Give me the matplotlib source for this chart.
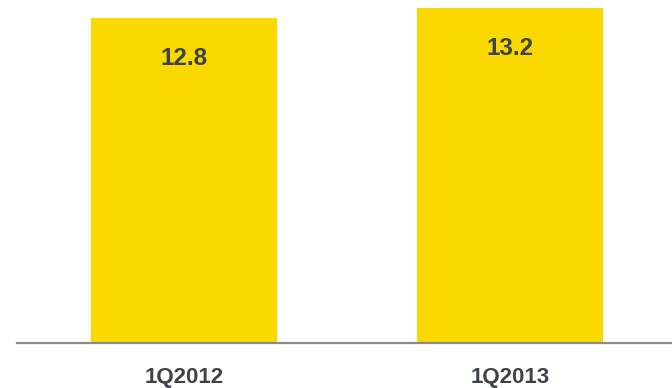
import matplotlib
matplotlib.use("Agg")
import matplotlib.pyplot as plt

categories = ["1Q2012", "1Q2013"]
values = [12.8, 13.2]

bar_color = "#FAD800"
text_color = "#3D4449"
axis_color = "#8C8C8C"

fig = plt.figure(figsize=(6.72, 3.88), dpi=100)
ax = fig.add_axes([17 / 672, 45 / 388, 655 / 672, 343 / 388])

x = list(range(len(categories)))
ax.bar(x, values, width=0.57, color=bar_color, zorder=2)

ax.set_xlim(-0.512, 1.497)
ax.set_ylim(0, 13.5)

for spine in ("top", "right", "left"):
    ax.spines[spine].set_visible(False)
ax.spines["bottom"].set_color(axis_color)
ax.spines["bottom"].set_linewidth(1.6)
ax.spines["bottom"].set_zorder(3)

ax.set_yticks([])
ax.set_xticks(x)
ax.set_xticklabels(categories, fontfamily="Liberation Sans", fontweight="bold",
                   fontsize=16, color=text_color)
ax.tick_params(axis="x", length=0, pad=17)

for xi, v in zip(x, values):
    ax.annotate(f"{v:.1f}", xy=(xi, v), xytext=(0, -29.5), textcoords="offset points",
                ha="center", va="center", fontfamily="Liberation Sans",
                fontweight="bold", fontsize=17.5, color=text_color)

fig.savefig("out.png", dpi=100, facecolor="white")
